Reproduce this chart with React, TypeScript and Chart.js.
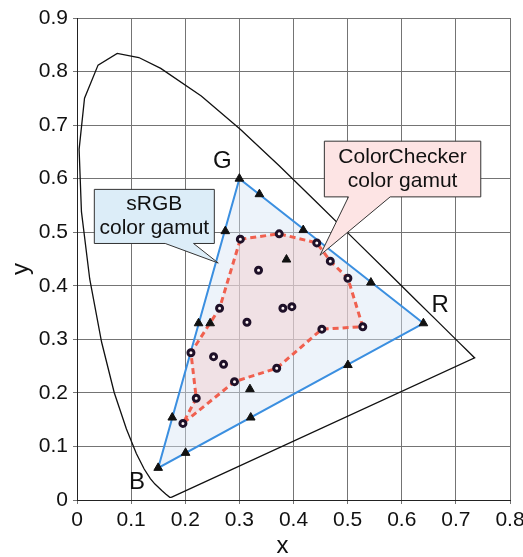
import React, { useEffect, useRef } from 'react';
import { Chart, registerables } from 'chart.js';

Chart.register(...registerables);

// ---- axis ticks ----
const xTickValues = [0, 0.1, 0.2, 0.3, 0.4, 0.5, 0.6, 0.7, 0.8];
const xTickLabels = ['0', '0.1', '0.2', '0.3', '0.4', '0.5', '0.6', '0.7', '0.8'];
const yTickValues = [0, 0.1, 0.2, 0.3, 0.4, 0.5, 0.6, 0.7, 0.8, 0.9];
const yTickLabels = ['0', '0.1', '0.2', '0.3', '0.4', '0.5', '0.6', '0.7', '0.8', '0.9'];
const xTitle = 'x';
const yTitle = 'y';

// ---- CIE 1931 spectral locus (closed by the purple line) ----
const locusX = [0.1741, 0.1714, 0.1644, 0.1566, 0.144, 0.1355, 0.1241, 0.1096, 0.0913, 0.0687, 0.0454, 0.0235, 0.0082, 0.0039, 0.0139, 0.0389, 0.0743, 0.1142, 0.1547, 0.2296, 0.3016, 0.3731, 0.4441, 0.5125, 0.5752, 0.627, 0.6658, 0.6915, 0.7079, 0.719, 0.726, 0.7347, 0.1741];
const locusY = [0.005, 0.0051, 0.0109, 0.0177, 0.0297, 0.0399, 0.0578, 0.0868, 0.1327, 0.2007, 0.295, 0.4127, 0.5384, 0.6548, 0.7502, 0.812, 0.8338, 0.8262, 0.8059, 0.7543, 0.6923, 0.6245, 0.5547, 0.4866, 0.4242, 0.3725, 0.334, 0.3083, 0.292, 0.2809, 0.274, 0.2653, 0.005];

// ---- sRGB triangle (R, G, B) ----
const srgbX = [0.64, 0.30, 0.15, 0.64];
const srgbY = [0.33, 0.60, 0.06, 0.33];

// ---- ColorChecker gamut outline ----
const hullX = [0.3018, 0.3736, 0.443, 0.468, 0.5005, 0.528, 0.4524, 0.369, 0.291, 0.1957, 0.2203, 0.2105, 0.2634, 0.3018];
const hullY = [0.487, 0.497, 0.480, 0.446, 0.414, 0.3236, 0.319, 0.246, 0.221, 0.143, 0.190, 0.275, 0.358, 0.487];

// ---- ColorChecker patches (circles) ----
const patchX = [0.3018, 0.3736, 0.443, 0.468, 0.5005, 0.528, 0.4524, 0.369, 0.291, 0.2203, 0.2105, 0.2634, 0.3354, 0.314, 0.3804, 0.397, 0.2523, 0.2708, 0.1957];
const patchY = [0.487, 0.497, 0.480, 0.446, 0.414, 0.3236, 0.319, 0.246, 0.221, 0.190, 0.275, 0.358, 0.429, 0.332, 0.358, 0.361, 0.2676, 0.2533, 0.143];

// ---- triangle markers ----
const triX = [0.64, 0.30, 0.15, 0.337, 0.418, 0.543, 0.387, 0.274, 0.2246, 0.246, 0.176, 0.2006, 0.3195, 0.321, 0.5005];
const triY = [0.33, 0.60, 0.06, 0.571, 0.504, 0.406, 0.449, 0.502, 0.33, 0.33, 0.154, 0.088, 0.207, 0.154, 0.252];

// ---- annotations ----
const callouts = [
  { lines: ['sRGB', 'color gamut'], box: [0.032, 0.2537, 0.479, 0.580], tailBase: [0.163, 0.2153], tip: [0.261, 0.4425], fill: '#dcedf8' },
  { lines: ['ColorChecker', 'color gamut'], box: [0.457, 0.746, 0.566, 0.670], tailBase: [0.5016, 0.5786], tip: [0.449, 0.457], fill: '#fde4e4' },
];
const vertexLabels = [
  { text: 'G', x: 0.2686, y: 0.633 },
  { text: 'R', x: 0.671, y: 0.364 },
  { text: 'B', x: 0.111, y: 0.0336 },
];

const FONT = '"Liberation Sans", Arial, Helvetica, sans-serif';

const pts = (xs: number[], ys: number[]) => xs.map((x, i) => ({ x, y: ys[i] }));

const annotationPlugin = {
  id: 'annotations',
  afterDatasetsDraw(chart: any) {
    const { ctx, chartArea } = chart;
    const sx = chart.scales.x;
    const sy = chart.scales.y;
    const px = (v: number) => sx.getPixelForValue(v);
    const py = (v: number) => sy.getPixelForValue(v);
    ctx.save();
    for (const c of callouts) {
      const [x0, x1, y0, y1] = c.box;
      const L = px(x0), R = px(x1), T = py(y1), B = py(y0);
      ctx.beginPath();
      ctx.moveTo(L, T);
      ctx.lineTo(R, T);
      ctx.lineTo(R, B);
      ctx.lineTo(px(c.tailBase[1]), B);
      ctx.lineTo(px(c.tip[0]), py(c.tip[1]));
      ctx.lineTo(px(c.tailBase[0]), B);
      ctx.lineTo(L, B);
      ctx.closePath();
      ctx.fillStyle = c.fill;
      ctx.fill();
      ctx.strokeStyle = '#333';
      ctx.lineWidth = 1;
      ctx.stroke();
      ctx.fillStyle = '#111';
      ctx.font = `21px ${FONT}`;
      ctx.textAlign = 'center';
      ctx.textBaseline = 'middle';
      const cx = (L + R) / 2;
      const cy = (T + B) / 2;
      const lh = 24;
      c.lines.forEach((t, i) => {
        ctx.fillText(t, cx, cy + (i - (c.lines.length - 1) / 2) * lh);
      });
    }
    ctx.font = `24px ${FONT}`;
    ctx.fillStyle = '#111';
    ctx.textAlign = 'center';
    ctx.textBaseline = 'middle';
    for (const l of vertexLabels) {
      ctx.fillText(l.text, px(l.x), py(l.y));
    }
    // axis titles
    const midX = (chartArea.left + chartArea.right) / 2;
    const midY = (chartArea.top + chartArea.bottom) / 2;
    ctx.fillText(xTitle, midX - 11, chart.height - 11);
    ctx.save();
    ctx.translate(21, midY + 10);
    ctx.rotate(-Math.PI / 2);
    ctx.fillText(yTitle, 0, 0);
    ctx.restore();
    ctx.restore();
  },
};

export default function App() {
  const ref = useRef<HTMLCanvasElement | null>(null);
  useEffect(() => {
    document.body.style.margin = '0';
    const canvas = ref.current;
    if (!canvas) return;
    const chart = new Chart(canvas, {
      type: 'scatter',
      data: {
        datasets: [
          {
            label: 'patches',
            data: pts(patchX, patchY),
            pointStyle: 'circle',
            pointRadius: 3,
            borderWidth: 3,
            borderColor: '#1e1028',
            backgroundColor: '#fff6f6',
            showLine: false,
          } as any,
          {
            label: 'triangles',
            data: pts(triX, triY),
            pointStyle: 'triangle',
            pointRadius: 5,
            borderWidth: 1,
            borderColor: '#111',
            backgroundColor: '#111',
            showLine: false,
          },
          {
            label: 'checker gamut',
            data: pts(hullX, hullY),
            showLine: true,
            pointRadius: 0,
            borderColor: '#f0604f',
            borderWidth: 3,
            borderDash: [6, 4],
            fill: 'shape',
            backgroundColor: 'rgba(245,205,205,0.45)',
            tension: 0,
          },
          {
            label: 'sRGB',
            data: pts(srgbX, srgbY),
            showLine: true,
            pointRadius: 0,
            borderColor: '#3b8fe0',
            borderWidth: 2,
            fill: 'shape',
            backgroundColor: 'rgba(215,228,245,0.45)',
          },
          {
            label: 'locus',
            data: pts(locusX, locusY),
            showLine: true,
            pointRadius: 0,
            borderColor: '#111',
            borderWidth: 1.3,
            fill: false,
          },
        ],
      },
      options: {
        responsive: false,
        animation: false,
        events: [],
        layout: { padding: { top: 18, right: 13, bottom: 0, left: 0 } },
        plugins: { legend: { display: false }, tooltip: { enabled: false } },
        scales: {
          x: {
            type: 'linear',
            position: 'bottom',
            min: 0,
            max: 0.8,
            afterBuildTicks: (s: any) => { s.ticks = xTickValues.map((v) => ({ value: v })); },
            afterFit: (s: any) => { s.height = 57; s.paddingLeft = 0; s.paddingRight = 0; },
            ticks: {
              callback: (_v: any, i: number) => xTickLabels[i],
              font: { family: FONT, size: 21 },
              color: '#111',
              padding: 4,
              maxRotation: 0,
              autoSkip: false,
            },
            grid: { color: '#747474', lineWidth: 1, tickLength: 4 },
            border: { color: '#222', width: 1 },
            title: { display: false },
          },
          y: {
            type: 'linear',
            position: 'left',
            min: 0,
            max: 0.9,
            afterBuildTicks: (s: any) => { s.ticks = yTickValues.map((v) => ({ value: v })); },
            afterFit: (s: any) => { s.width = 77; s.paddingTop = 0; s.paddingBottom = 0; },
            ticks: {
              callback: (_v: any, i: number) => yTickLabels[i],
              font: { family: FONT, size: 21 },
              color: '#111',
              padding: 5,
              autoSkip: false,
            },
            grid: { color: '#747474', lineWidth: 1, tickLength: 4 },
            border: { color: '#222', width: 1 },
            title: { display: false },
          },
        },
      },
      plugins: [annotationPlugin],
    } as any);
    return () => chart.destroy();
  }, []);
  return (
    <div style={{ width: 523, height: 557 }}>
      <canvas ref={ref} width={523} height={557} />
    </div>
  );
}
